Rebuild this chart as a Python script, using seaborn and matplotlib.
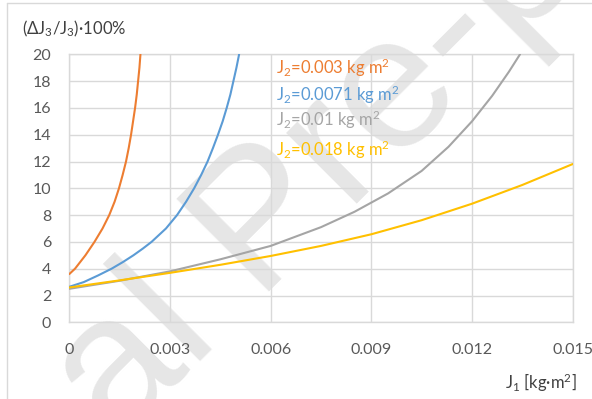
import matplotlib
matplotlib.use("Agg")
import matplotlib.pyplot as plt
import numpy as np
import pandas as pd
import seaborn as sns
from matplotlib.lines import Line2D

# ---- data (J1 in kg m^2, error in %) ----
j1_a = [0, 0.00017, 0.00048, 0.00075, 0.00099, 0.00119, 0.00135, 0.00148, 0.00159,
        0.00169, 0.00177, 0.00184, 0.00190, 0.00196, 0.00201, 0.00205, 0.00209, 0.00212]
err_a = [3.6, 4, 5, 6, 7, 8, 9, 10, 11, 12, 13, 14, 15, 16, 17, 18, 19, 20]

j1_b = [0, 0.00043, 0.00086, 0.00126, 0.0016, 0.00191, 0.00219, 0.00245, 0.00288,
        0.00321, 0.00348, 0.00372, 0.00393, 0.00412, 0.00428, 0.00443, 0.00457,
        0.00469, 0.0048, 0.00489, 0.00498, 0.00506]
err_b = [2.65, 3, 3.5, 4, 4.5, 5, 5.5, 6, 7, 8, 9, 10, 11, 12, 13, 14, 15, 16, 17, 18, 19, 20]

j1_c = [0, 0.0015, 0.003, 0.0045, 0.006, 0.0075, 0.0085, 0.0095, 0.0105, 0.0113,
        0.012, 0.0126, 0.0131, 0.01343]
err_c = [2.5, 3.1, 3.8, 4.7, 5.7, 7.1, 8.25, 9.62, 11.3, 13.1, 15.0, 16.9, 18.7, 20.0]

j1_d = [0, 0.0015, 0.003, 0.0045, 0.006, 0.0075, 0.009, 0.0105, 0.012, 0.0135, 0.015]
err_d = [2.6, 3.13, 3.69, 4.29, 4.95, 5.70, 6.57, 7.62, 8.85, 10.25, 11.81]

series_names = ["J2=0.003", "J2=0.0071", "J2=0.01", "J2=0.018"]
series_labels = [r"J$_\mathregular{2}$=0.003 kg m$^\mathregular{2}$",
                 r"J$_\mathregular{2}$=0.0071 kg m$^\mathregular{2}$",
                 r"J$_\mathregular{2}$=0.01 kg m$^\mathregular{2}$",
                 r"J$_\mathregular{2}$=0.018 kg m$^\mathregular{2}$"]
series_colors = ["#ED7D31", "#5B9BD5", "#A5A5A5", "#FFC000"]

x_ticks = [0, 0.003, 0.006, 0.009, 0.012, 0.015]
x_ticklabels = ["0", "0.003", "0.006", "0.009", "0.012", "0.015"]
y_ticks = [0, 2, 4, 6, 8, 10, 12, 14, 16, 18, 20]

frames = []
for name, xs, ys in zip(series_names, [j1_a, j1_b, j1_c, j1_d], [err_a, err_b, err_c, err_d]):
    frames.append(pd.DataFrame({"J1": xs, "err": ys, "series": name}))
df = pd.concat(frames, ignore_index=True)

# ---- style ----
sns.set_theme(style="white")
plt.rcParams['font.family'] = ['Lato', 'DejaVu Sans']
plt.rcParams['mathtext.fontset'] = 'custom'
plt.rcParams['mathtext.rm'] = 'Lato'
plt.rcParams['mathtext.it'] = 'Lato:italic'
plt.rcParams['mathtext.bf'] = 'Lato:bold'

W, H = 592, 399
fig = plt.figure(figsize=(W / 100, H / 100), dpi=100)
fig.patch.set_facecolor("white")
L, R, T, B = 69.3, 572.7, 54.3, 322.3
ax = fig.add_axes([L / W, 1 - B / H, (R - L) / W, (B - T) / H])

sns.lineplot(data=df, x="J1", y="err", hue="series", hue_order=series_names,
             palette=dict(zip(series_names, series_colors)), sort=False,
             estimator=None, linewidth=1.5, legend=False, ax=ax, zorder=3)
for ln in ax.lines:
    ln.set_solid_joinstyle("round")
    ln.set_solid_capstyle("round")

ax.set_xlim(0, 0.015)
ax.set_ylim(0, 20)
ax.set_xticks(x_ticks)
ax.set_xticklabels(x_ticklabels)
ax.set_yticks(y_ticks)
ax.set_xlabel("")
ax.set_ylabel("")
ax.grid(True, color="#d9d9d9", linewidth=1.0, zorder=0.5)
for sp in ax.spines.values():
    sp.set_color("#d9d9d9")
    sp.set_linewidth(1.0)
ax.tick_params(axis="both", length=0, labelsize=11.5, labelcolor="#595959")
ax.tick_params(axis="x", pad=15)
ax.tick_params(axis="y", pad=13)

# series labels
label_y = [19.0, 17.0, 15.1, 12.9]
for lab, col, yy in zip(series_labels, series_colors, label_y):
    ax.text(0.00617, yy, lab, color=col, fontsize=12, ha="left", va="center", zorder=4)

# axis titles
fig.text(22 / W, 1 - 29 / H, "(ΔJ$_\\mathregular{3}$/J$_\\mathregular{3}$)·100%",
         fontsize=12, color="#404040", ha="left", va="center")
fig.text(577 / W, 1 - 383 / H, "J$_\\mathregular{1}$ [kg·m$^\\mathregular{2}$]",
         fontsize=12, color="#404040", ha="right", va="center")

# watermark
ax.text(116 / W, 1 - 444 / H, "al Pre-p", transform=fig.transFigure, rotation=45,
        rotation_mode="anchor", ha="left", va="baseline", fontsize=137,
        family="Liberation Sans", color="#e6e6e6", zorder=0.4, clip_on=False)

# outer chart frame
fig.add_artist(Line2D([7 / W, 7 / W], [0, 1 - 3 / H], color="#d9d9d9", lw=1.0,
                      transform=fig.transFigure))
fig.add_artist(Line2D([7 / W, 1], [1 - 3 / H, 1 - 3 / H], color="#d9d9d9", lw=1.0,
                      transform=fig.transFigure))

fig.savefig("out.png", dpi=100, facecolor="white")
